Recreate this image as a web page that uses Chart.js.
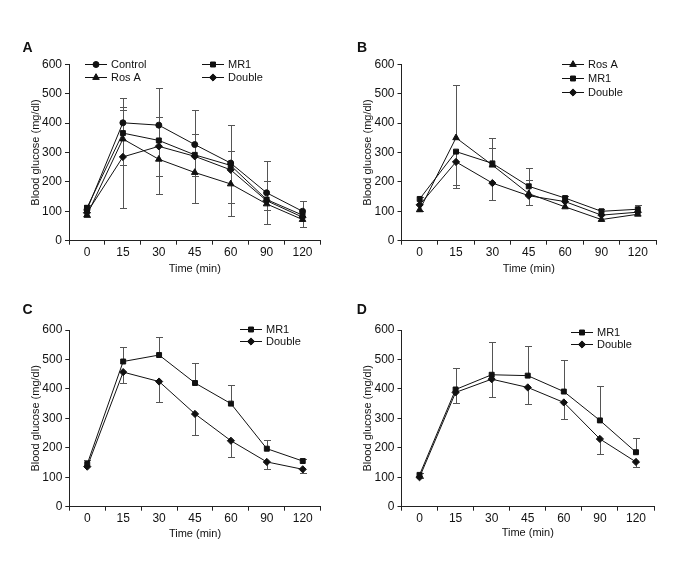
<!DOCTYPE html>
<html>
<head>
<meta charset="utf-8">
<script src="https://cdn.jsdelivr.net/npm/chart.js@4/dist/chart.umd.min.js"></script>
<style>
  html, body { margin: 0; padding: 0; background: #fff; }
  #wrap { position: relative; width: 675px; height: 567px; }
  canvas { position: absolute; }
</style>
</head>
<body>
<div id="wrap">
  <canvas id="cA" width="337" height="283" style="left:0px;top:0px"></canvas>
  <canvas id="cB" width="337" height="283" style="left:338px;top:0px"></canvas>
  <canvas id="cC" width="337" height="283" style="left:0px;top:284px"></canvas>
  <canvas id="cD" width="337" height="283" style="left:338px;top:284px"></canvas>
</div>
<script>
// ---------- data ----------
const times = ['0', '15', '30', '45', '60', '90', '120'];
const yTickMin = 0, yTickMax = 600, yTickStep = 100;

// Panel A
const aControl     = [105, 401, 393, 327, 264, 163, 100];
const aControlUp   = [16, 85, 127, 119, 129, 107, 34];
const aMR1         = [112, 366, 341, 292, 256, 140, 87];
const aMR1Up       = [0, 90, 81, 70, 49, 62, 0];
const aRosA        = [87, 346, 277, 232, 193, 125, 72];
const aRosAUp      = [0, 100, 0, 0, 0, 0, 0];
const aRosADown    = [6, 89, 57, 105, 108, 69, 27];
const aDouble      = [95, 285, 321, 287, 241, 136, 80];
const aDoubleDown  = [0, 175, 163, 67, 112, 31, 0];

// Panel B
const bRosA        = [105, 350, 257, 160, 115, 72, 90];
const bRosAUp      = [0, 180, 93, 48, 0, 0, 0];
const bRosADown    = [4, 0, 0, 0, 0, 0, 0];
const bMR1         = [142, 303, 263, 185, 145, 100, 107];
const bMR1Up       = [8, 0, 52, 61, 8, 8, 15];
const bMR1Down     = [0, 113, 0, 0, 0, 0, 0];
const bDouble      = [122, 268, 196, 153, 133, 87, 97];
const bDoubleDown  = [0, 90, 58, 30, 0, 0, 0];

// Panel C
const cMR1         = [145, 493, 515, 420, 350, 197, 155];
const cMR1Up       = [15, 49, 60, 68, 64, 29, 6];
const cDouble      = [136, 457, 425, 315, 224, 152, 127];
const cDoubleDown  = [0, 37, 70, 70, 54, 24, 12];

// Panel D
const dMR1         = [108, 398, 448, 445, 391, 293, 185];
const dMR1Up       = [5, 74, 110, 101, 108, 118, 48];
const dDouble      = [100, 388, 433, 405, 354, 230, 152];
const dDoubleDown  = [3, 36, 61, 55, 55, 52, 17];

// ---------- styles ----------
const FONT = '"Liberation Sans", Arial, sans-serif';
const INK = '#111';
const AXIS = '#222';
const ERR = '#555';
const markers = {
  Control: { pointStyle: 'circle', pointRadius: 3 },
  MR1:     { pointStyle: 'rect', pointRadius: 3.5 },
  'Ros A': { pointStyle: 'triangle', pointRadius: 3.8 },
  Double:  { pointStyle: 'rectRot', pointRadius: 3.6 }
};

function series(label, data, up, down) {
  return Object.assign({
    label: label,
    data: data,
    errUp: up || [],
    errDown: down || [],
    borderColor: INK,
    backgroundColor: INK,
    pointBackgroundColor: INK,
    pointBorderColor: INK,
    borderWidth: 1,
    pointBorderWidth: 1,
    tension: 0,
    fill: false
  }, markers[label]);
}

// ---------- plugins ----------
const errorBars = {
  id: 'errorBars',
  beforeDatasetsDraw(chart) {
    const xs = chart.scales.x, ys = chart.scales.y, ctx = chart.ctx;
    ctx.save();
    ctx.strokeStyle = ERR;
    ctx.lineWidth = 1;
    const cap = 3.5;
    chart.data.datasets.forEach(ds => {
      ds.data.forEach((v, i) => {
        const px = Math.round(xs.getPixelForValue(i)) + 0.5;
        const py = ys.getPixelForValue(v);
        [[ds.errUp[i], 1], [ds.errDown[i], -1]].forEach(([e, s]) => {
          if (!e) return;
          const ey = Math.round(ys.getPixelForValue(v + s * e)) + 0.5;
          ctx.beginPath();
          ctx.moveTo(px, py);
          ctx.lineTo(px, ey);
          ctx.moveTo(px - cap, ey);
          ctx.lineTo(px + cap, ey);
          ctx.stroke();
        });
      });
    });
    ctx.restore();
  }
};

const customLegend = {
  id: 'customLegend',
  afterDraw(chart, args, opts) {
    const ctx = chart.ctx;
    (opts.items || []).forEach(it => {
      const ds = chart.data.datasets[it.ds];
      ctx.save();
      ctx.strokeStyle = INK;
      ctx.fillStyle = INK;
      ctx.lineWidth = 1;
      ctx.beginPath();
      ctx.moveTo(it.x, it.y + 0.5);
      ctx.lineTo(it.x + 22, it.y + 0.5);
      ctx.stroke();
      Chart.helpers.drawPoint(ctx, {
        pointStyle: ds.pointStyle, radius: ds.pointRadius, borderWidth: 1, rotation: 0
      }, it.x + 11, it.y + 0.5);
      ctx.fillStyle = INK;
      ctx.font = '11px ' + FONT;
      ctx.textBaseline = 'middle';
      ctx.textAlign = 'left';
      ctx.fillText(ds.label, it.x + 26, it.y + 1);
      ctx.restore();
    });
  }
};

const panelLabel = {
  id: 'panelLabel',
  afterDraw(chart, args, opts) {
    const ctx = chart.ctx;
    ctx.save();
    ctx.fillStyle = INK;
    ctx.font = 'bold 14px ' + FONT;
    ctx.textBaseline = 'alphabetic';
    ctx.fillText(opts.text, opts.x, opts.y);
    ctx.restore();
  }
};

// ---------- chart builder ----------
function makeChart(id, datasets, g) {
  const tickFont = { family: FONT, size: 12 };
  const titleFont = { family: FONT, size: 11 };
  return new Chart(document.getElementById(id), {
    type: 'line',
    data: { labels: times, datasets: datasets },
    plugins: [errorBars, customLegend, panelLabel],
    options: {
      responsive: false,
      animation: false,
      devicePixelRatio: 1,
      layout: { padding: { left: 0, top: g.top, right: 337 - g.right, bottom: 283 - g.bottom - g.xh } },
      plugins: {
        legend: { display: false },
        tooltip: { enabled: false },
        customLegend: { items: g.legend },
        panelLabel: g.label
      },
      scales: {
        x: {
          type: 'category',
          offset: true,
          border: { color: AXIS, width: 1 },
          grid: { display: true, drawOnChartArea: false, drawTicks: true, tickLength: 4, color: AXIS, offset: true },
          ticks: { font: tickFont, color: INK, padding: 1, maxRotation: 0, autoSkip: false },
          title: { display: true, text: 'Time (min)', font: titleFont, color: INK, padding: { top: 0, bottom: 0 } },
          afterFit(s) { s.height = g.xh; }
        },
        y: {
          min: yTickMin, max: yTickMax,
          border: { color: AXIS, width: 1 },
          grid: { display: true, drawOnChartArea: false, drawTicks: true, tickLength: 4, color: AXIS },
          ticks: { stepSize: yTickStep, font: tickFont, color: INK, padding: 3 },
          title: { display: true, text: 'Blood glucose (mg/dl)', font: titleFont, color: INK, padding: { top: g.ytp, bottom: 0 } },
          afterFit(s) { s.width = g.left; }
        }
      }
    }
  });
}

makeChart('cA', [
  series('Control', aControl, aControlUp),
  series('MR1', aMR1, aMR1Up),
  series('Ros A', aRosA, aRosAUp, aRosADown),
  series('Double', aDouble, null, aDoubleDown)
], {
  left: 69, right: 320.5, top: 64.3, bottom: 240.7, xh: 35, ytp: 29.2,
  legend: [{ ds: 0, x: 85, y: 64 }, { ds: 1, x: 202, y: 64 }, { ds: 2, x: 85, y: 77 }, { ds: 3, x: 202, y: 77 }],
  label: { text: 'A', x: 22.5, y: 51.7 }
});

makeChart('cB', [
  series('Ros A', bRosA, bRosAUp, bRosADown),
  series('MR1', bMR1, bMR1Up, bMR1Down),
  series('Double', bDouble, null, bDoubleDown)
], {
  left: 63.5, right: 318, top: 64.3, bottom: 240.7, xh: 35, ytp: 23,
  legend: [{ ds: 0, x: 224, y: 64 }, { ds: 1, x: 224, y: 78 }, { ds: 2, x: 224, y: 92 }],
  label: { text: 'B', x: 19, y: 51.7 }
});

makeChart('cC', [
  series('MR1', cMR1, cMR1Up),
  series('Double', cDouble, null, cDoubleDown)
], {
  left: 69.3, right: 320.7, top: 46, bottom: 222.7, xh: 34.2, ytp: 29.7,
  legend: [{ ds: 0, x: 240, y: 45 }, { ds: 1, x: 240, y: 57 }],
  label: { text: 'C', x: 22.5, y: 30 }
});

makeChart('cD', [
  series('MR1', dMR1, dMR1Up),
  series('Double', dDouble, null, dDoubleDown)
], {
  left: 63.5, right: 316, top: 46, bottom: 222.7, xh: 33.2, ytp: 23.4,
  legend: [{ ds: 0, x: 233, y: 48 }, { ds: 1, x: 233, y: 60 }],
  label: { text: 'D', x: 18.7, y: 30 }
});
</script>
</body>
</html>
